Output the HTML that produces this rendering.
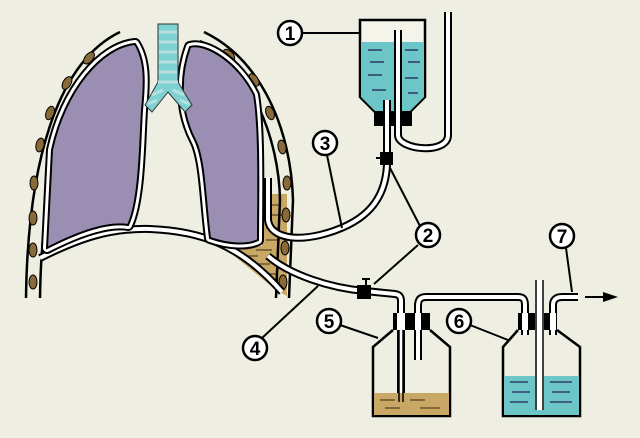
<!DOCTYPE html><html><head><style>html,body{margin:0;padding:0;background:#eeeee2}svg{display:block}text{font-family:"Liberation Sans",sans-serif;font-weight:bold;font-size:19px}</style></head><body>
<svg width="640" height="438" viewBox="0 0 640 438" xmlns="http://www.w3.org/2000/svg">
<rect width="640" height="438" fill="#eeeee2"/>
<!-- fluid in chest -->
<polygon points="258,194 287,194 287,296 276,290 232,254 212,244 262,246" fill="#c9a866"/>
<g stroke="#6b5530" stroke-width="1.5">
<line x1="266" y1="205" x2="280" y2="205"/><line x1="266" y1="215" x2="282" y2="215"/><line x1="256" y1="250" x2="272" y2="250"/><line x1="240" y1="256" x2="258" y2="256"/><line x1="252" y1="264" x2="270" y2="264"/><line x1="262" y1="274" x2="276" y2="274"/><line x1="266" y1="228" x2="278" y2="228"/><line x1="266" y1="240" x2="280" y2="240"/>
</g>
<!-- chest wall -->
<g fill="none" stroke="#000" stroke-width="2.5">
<path d="M120,32 C62,60 28,150 26,298"/>
<path d="M127,41 C74,72 42,160 40,298"/>
<path d="M204,32 C262,60 291,130 293,200 L289,298"/>
<path d="M200,41 C252,68 279,140 280,200 L276,298"/>
</g>
<g fill="#8a6a38" stroke="#000" stroke-width="1">
<ellipse cx="89" cy="58" rx="4" ry="7" transform="rotate(40 89 58)"/>
<ellipse cx="67" cy="83" rx="4" ry="7" transform="rotate(30 67 83)"/>
<ellipse cx="50" cy="113" rx="4" ry="7" transform="rotate(20 50 113)"/>
<ellipse cx="40" cy="145" rx="4" ry="7" transform="rotate(12 40 145)"/>
<ellipse cx="34" cy="183" rx="4" ry="7"/>
<ellipse cx="33" cy="218" rx="4" ry="7"/>
<ellipse cx="33" cy="250" rx="4" ry="7"/>
<ellipse cx="33" cy="282" rx="4" ry="7"/>
<ellipse cx="229" cy="55" rx="4" ry="7" transform="rotate(-45 229 55)"/>
<ellipse cx="254" cy="80" rx="4" ry="7" transform="rotate(-35 254 80)"/>
<ellipse cx="270" cy="113" rx="4" ry="7" transform="rotate(-20 270 113)"/>
<ellipse cx="282" cy="147" rx="4" ry="7" transform="rotate(-10 282 147)"/>
<ellipse cx="287" cy="183" rx="4" ry="7"/>
<ellipse cx="286" cy="215" rx="4" ry="7"/>
<ellipse cx="285" cy="248" rx="4" ry="7"/>
<ellipse cx="283" cy="282" rx="4" ry="7"/>
</g>
<!-- diaphragm -->
<path d="M40,258 C80,238 110,228 150,229 C200,231 240,244 282,292" fill="none" stroke="#000" stroke-width="8"/>
<path d="M40,258 C80,238 110,228 150,229 C200,231 240,244 282,292" fill="none" stroke="#fff" stroke-width="4"/>
<!-- lungs -->
<g>
<path d="M135,44 C102,47 65,90 52,150 L47,248 C82,230 110,222 128,225 C140,200 140,140 142,110 C145,80 145,60 135,44 Z" fill="none" stroke="#000" stroke-width="12" stroke-linejoin="round"/>
<path d="M135,44 C102,47 65,90 52,150 L47,248 C82,230 110,222 128,225 C140,200 140,140 142,110 C145,80 145,60 135,44 Z" fill="none" stroke="#fff" stroke-width="8" stroke-linejoin="round"/>
<path d="M135,44 C102,47 65,90 52,150 L47,248 C82,230 110,222 128,225 C140,200 140,140 142,110 C145,80 145,60 135,44 Z" fill="#9a8fb2" stroke="#000" stroke-width="2"/>
<path d="M190,47 C205,42 238,62 254,95 C260,130 258,200 258,240 C248,245 230,245 210,238 C205,200 205,160 195,140 C182,115 178,80 190,47 Z" fill="none" stroke="#000" stroke-width="12" stroke-linejoin="round"/>
<path d="M190,47 C205,42 238,62 254,95 C260,130 258,200 258,240 C248,245 230,245 210,238 C205,200 205,160 195,140 C182,115 178,80 190,47 Z" fill="none" stroke="#fff" stroke-width="8" stroke-linejoin="round"/>
<path d="M190,47 C205,42 238,62 254,95 C260,130 258,200 258,240 C248,245 230,245 210,238 C205,200 205,160 195,140 C182,115 178,80 190,47 Z" fill="#9a8fb2" stroke="#000" stroke-width="2"/>
</g>
<!-- trachea -->
<polygon points="158,24 178,24 178,82 192,105 185,112 168,92 152,112 145,105 158,82" fill="#7fd2d2" stroke="#333" stroke-width="1"/>
<g stroke="#b8dede" stroke-width="3">
<line x1="159" y1="32" x2="177" y2="32"/><line x1="159" y1="42" x2="177" y2="42"/><line x1="159" y1="52" x2="177" y2="52"/><line x1="159" y1="62" x2="177" y2="62"/><line x1="159" y1="72" x2="177" y2="72"/><line x1="158" y1="82" x2="178" y2="82"/><line x1="152" y1="95" x2="163" y2="90"/><line x1="173" y1="90" x2="184" y2="95"/><line x1="148" y1="104" x2="157" y2="100"/><line x1="180" y1="100" x2="189" y2="104"/>
</g>
<!-- upper bottle 1 -->
<path d="M360,20 L425,20 L425,97 L410,112 L375,112 L360,97 Z" fill="#f4f4ea" stroke="#000" stroke-width="2.5"/>
<path d="M361,42 L424,42 L424,97 L410,111 L375,111 L361,97 Z" fill="#6cc6c8"/>
<g stroke="#225" stroke-width="1.3"><line x1="368" y1="50" x2="382" y2="50"/><line x1="405" y1="50" x2="418" y2="50"/><line x1="370" y1="62" x2="384" y2="62"/><line x1="408" y1="62" x2="420" y2="62"/><line x1="368" y1="75" x2="382" y2="75"/><line x1="405" y1="78" x2="418" y2="78"/><line x1="372" y1="90" x2="386" y2="90"/><line x1="408" y1="93" x2="418" y2="93"/></g>
<rect x="374" y="112" width="38" height="14" fill="#000"/>
<!-- tubes (double line) -->
<g fill="none" stroke-linecap="butt" stroke-linejoin="round">
<g stroke="#000" stroke-width="8">
<path d="M387,100 L387,165 C385,205 360,225 320,235 C290,242 270,235 268,220 L268,178"/>
<path d="M398,30 L398,135 C398,150 448,155 448,135 L448,12"/>
<path d="M268,256 C290,275 330,288 365,291 L395,294 C402,295 401,300 401,305 L401,402"/>
<path d="M418,360 L418,306 C418,300 420,297 426,297 L518,297 C524,297 525,300 525,306 L525,335"/>
<path d="M553,335 L553,305 C553,300 556,297 562,297 L578,297"/>
</g>
<g stroke="#fff" stroke-width="4">
<path d="M387,100 L387,165 C385,205 360,225 320,235 C290,242 270,235 268,220 L268,178"/>
<path d="M398,30 L398,135 C398,150 448,155 448,135 L448,12"/>
<path d="M268,256 C290,275 330,288 365,291 L395,294 C402,295 401,300 401,305 L401,402"/>
<path d="M418,360 L418,306 C418,300 420,297 426,297 L518,297 C524,297 525,300 525,306 L525,335"/>
<path d="M553,335 L553,305 C553,300 556,297 562,297 L578,297"/>
</g>
</g>
<rect x="380" y="152" width="13" height="13" fill="#000"/><line x1="376" y1="158" x2="380" y2="158" stroke="#000" stroke-width="2"/>
<!-- bottle 5 -->
<path d="M393,330 L373,347 L373,416 L450,416 L450,347 L430,330" fill="none" stroke="#000" stroke-width="2.5"/>
<rect x="374" y="393" width="75" height="22" fill="#c9a866"/>
<g stroke="#5a4420" stroke-width="1.3"><line x1="380" y1="400" x2="395" y2="400"/><line x1="410" y1="400" x2="425" y2="400"/><line x1="385" y1="408" x2="400" y2="408"/><line x1="420" y1="408" x2="440" y2="408"/></g>
<path d="M399,320 L399,402 M403,320 L403,402" stroke="#000" stroke-width="1.5"/>
<rect x="393" y="313" width="37" height="17" fill="#000"/>
<rect x="397" y="313" width="8" height="17" fill="#fff"/><rect x="415" y="313" width="6" height="17" fill="#fff"/>
<!-- bottle 6 -->
<path d="M518,330 L503,347 L503,416 L580,416 L580,347 L557,330" fill="none" stroke="#000" stroke-width="2.5"/>
<rect x="504" y="376" width="75" height="39" fill="#6cc6c8"/>
<g stroke="#225" stroke-width="1.3"><line x1="510" y1="382" x2="528" y2="382"/><line x1="550" y1="382" x2="572" y2="382"/><line x1="512" y1="392" x2="530" y2="392"/><line x1="552" y1="392" x2="570" y2="392"/><line x1="510" y1="402" x2="528" y2="402"/><line x1="550" y1="402" x2="572" y2="402"/></g>
<rect x="518" y="313" width="39" height="17" fill="#000"/>
<rect x="522" y="313" width="6" height="17" fill="#fff"/><rect x="535" y="280" width="9" height="130" fill="#fff"/><rect x="550" y="313" width="6" height="17" fill="#fff"/>
<line x1="536" y1="280" x2="536" y2="410" stroke="#000" stroke-width="1.5"/><line x1="543" y1="280" x2="543" y2="410" stroke="#000" stroke-width="1.5"/>
<!-- clamp lower -->
<rect x="357" y="285" width="14" height="14" fill="#000"/><line x1="366" y1="285" x2="366" y2="279" stroke="#000" stroke-width="2"/><line x1="362" y1="279" x2="370" y2="279" stroke="#000" stroke-width="2"/>
<!-- arrow -->
<line x1="585" y1="297" x2="605" y2="297" stroke="#000" stroke-width="2"/><polygon points="603,292 618,297 603,302" fill="#000"/>
<!-- leader lines -->
<g stroke="#000" stroke-width="2" fill="none">
<line x1="301" y1="33" x2="360" y2="33"/>
<line x1="327" y1="155" x2="342" y2="228"/>
<line x1="420" y1="226" x2="390" y2="168"/>
<line x1="418" y1="245" x2="374" y2="284"/>
<line x1="262" y1="338" x2="318" y2="286"/>
<line x1="340" y1="325" x2="378" y2="338"/>
<line x1="470" y1="325" x2="508" y2="340"/>
<line x1="566" y1="248" x2="572" y2="292"/>
</g>
<g fill="#fff" stroke="#000" stroke-width="2.5">
<circle cx="290" cy="33" r="12"/><circle cx="325" cy="143" r="12"/><circle cx="428" cy="235" r="12"/><circle cx="562" cy="236" r="12"/><circle cx="329" cy="321" r="12"/><circle cx="459" cy="321" r="12"/><circle cx="255" cy="348" r="12"/>
</g>
<g text-anchor="middle"><text x="290" y="40">1</text><text x="325" y="150">3</text><text x="428" y="242">2</text><text x="562" y="243">7</text><text x="329" y="328">5</text><text x="459" y="328">6</text><text x="255" y="355">4</text></g>
</svg></body></html>
